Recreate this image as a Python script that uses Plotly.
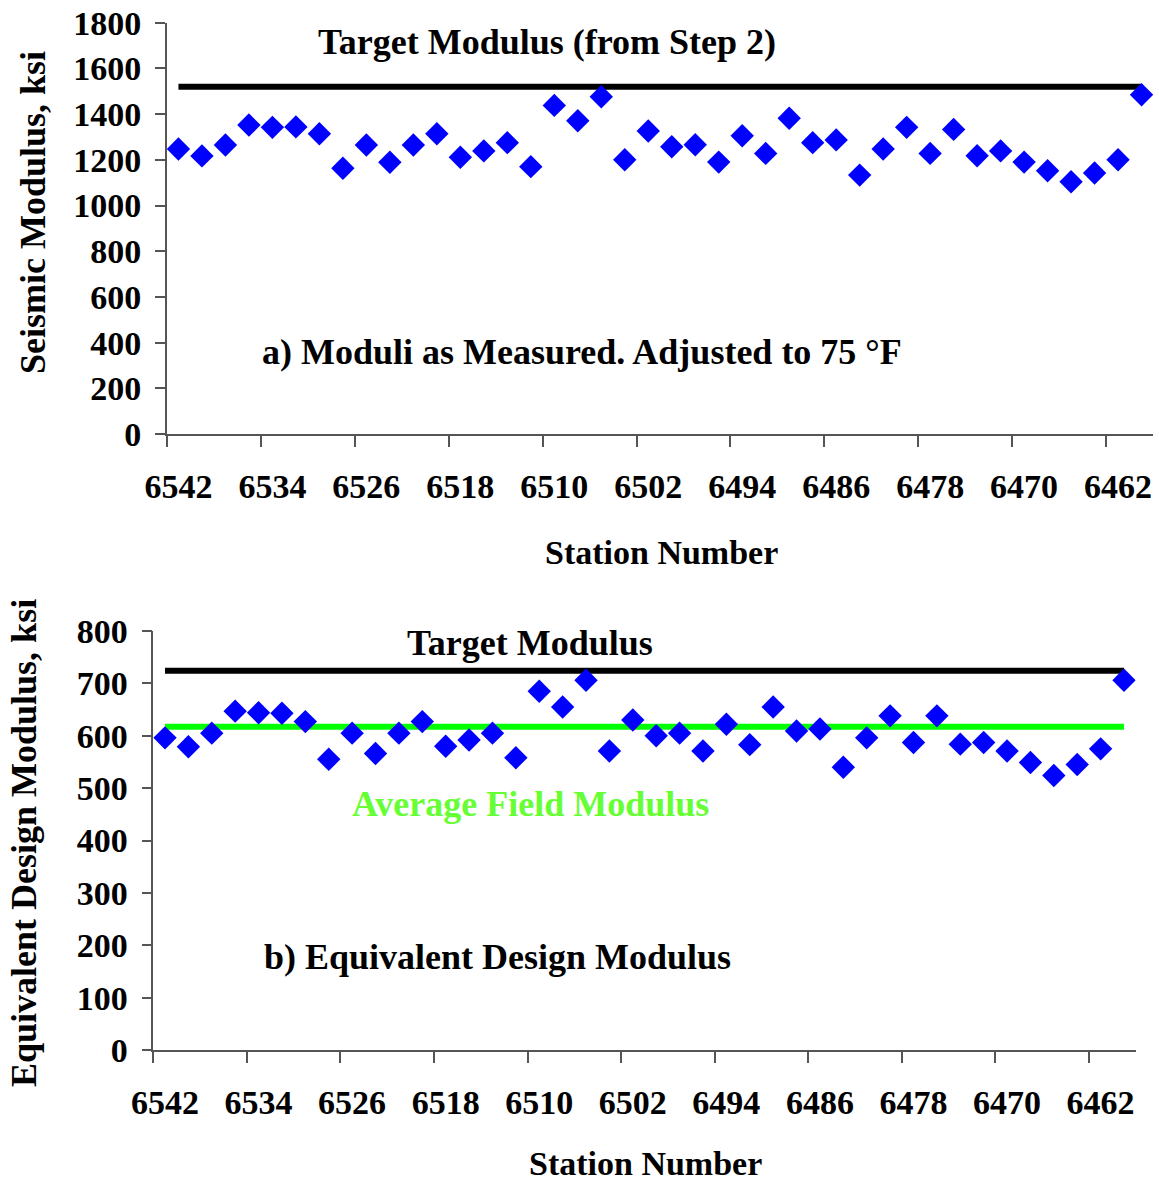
import plotly.graph_objects as go

# Station numbers along the test section (every other station)
stations = [6542, 6540, 6538, 6536, 6534, 6532, 6530, 6528, 6526, 6524,
            6522, 6520, 6518, 6516, 6514, 6512, 6510, 6508, 6506, 6504,
            6502, 6500, 6498, 6496, 6494, 6492, 6490, 6488, 6486, 6484,
            6482, 6480, 6478, 6476, 6474, 6472, 6470, 6468, 6466, 6464,
            6462, 6460]

# a) seismic moduli as measured, adjusted to 75 F (ksi)
seismic_modulus = [1247, 1217, 1265, 1352, 1342, 1344, 1314, 1163, 1265, 1189,
                   1265, 1314, 1211, 1239, 1275, 1170, 1438, 1371, 1476, 1200,
                   1326, 1257, 1266, 1190, 1305, 1228, 1382, 1275, 1287, 1133,
                   1247, 1342, 1228, 1333, 1218, 1239, 1190, 1152, 1104, 1142,
                   1200, 1485]

# b) equivalent design moduli (ksi)
design_modulus = [596, 579, 605, 647, 644, 643, 627, 555, 605, 566,
                  605, 627, 580, 592, 605, 558, 685, 655, 706, 571,
                  630, 600, 605, 571, 622, 583, 655, 609, 613, 540,
                  596, 638, 587, 638, 584, 587, 571, 549, 524, 545,
                  575, 706]

target_seismic = 1520
target_design = 724
average_field = 617

tick_stations = [6542, 6534, 6526, 6518, 6510, 6502, 6494, 6486, 6478, 6470, 6462]
tick_labels = ["6542", "6534", "6526", "6518", "6510", "6502",
               "6494", "6486", "6478", "6470", "6462"]
# tick marks sit between categories, one station before each label
tick_bounds = [s + 1 for s in tick_stations]

FONT = "Liberation Serif, Times New Roman, serif"
W, H = 1159, 1186
AXIS_COLOR = "#555555"

fig = go.Figure()

# ---- top panel ----
fig.add_trace(go.Scatter(
    x=[stations[0], stations[-1]], y=[target_seismic, target_seismic],
    mode="lines", line=dict(color="black", width=6),
    xaxis="x", yaxis="y", showlegend=False, hoverinfo="skip"))
fig.add_trace(go.Scatter(
    x=stations, y=seismic_modulus, mode="markers",
    marker=dict(symbol="diamond", size=18, color="#0000FF", line=dict(width=0)),
    xaxis="x", yaxis="y", showlegend=False))

# ---- bottom panel ----
fig.add_trace(go.Scatter(
    x=[stations[0], stations[-1]], y=[target_design, target_design],
    mode="lines", line=dict(color="black", width=6),
    xaxis="x2", yaxis="y2", showlegend=False, hoverinfo="skip"))
fig.add_trace(go.Scatter(
    x=[stations[0], stations[-1]], y=[average_field, average_field],
    mode="lines", line=dict(color="#00FF00", width=6),
    xaxis="x2", yaxis="y2", showlegend=False, hoverinfo="skip"))
fig.add_trace(go.Scatter(
    x=stations, y=design_modulus, mode="markers",
    marker=dict(symbol="diamond", size=18, color="#0000FF", line=dict(width=0)),
    xaxis="x2", yaxis="y2", showlegend=False))


def px_x(v):
    return v / W


def px_y(v):
    return 1 - v / H


tick_font = dict(family=FONT, size=34, color="black", weight="bold")


def x_axis(domain, anchor):
    return dict(
        domain=domain, anchor=anchor, automargin=False,
        range=[stations[0] + 1, stations[-1] - 1],
        tickmode="array", tickvals=tick_stations, ticktext=tick_labels,
        ticks="", ticklabelstandoff=21,
        minor=dict(tickmode="array", tickvals=tick_bounds, ticks="outside",
                   ticklen=11, tickwidth=1.5, tickcolor=AXIS_COLOR, showgrid=False),
        showline=True, linecolor=AXIS_COLOR, linewidth=1.5,
        showgrid=False, zeroline=False, tickfont=tick_font,
    )


def y_axis(domain, anchor, rng, dtick):
    return dict(
        domain=domain, anchor=anchor, range=rng, dtick=dtick, automargin=False,
        ticks="outside", ticklen=10, tickwidth=1.5, tickcolor=AXIS_COLOR,
        ticklabelstandoff=7,
        showline=True, linecolor=AXIS_COLOR, linewidth=1.5,
        showgrid=False, zeroline=False, tickfont=tick_font,
    )


fig.update_layout(
    width=W, height=H,
    margin=dict(l=0, r=0, t=0, b=0),
    paper_bgcolor="white", plot_bgcolor="white",
    font=dict(family=FONT, weight="bold"),
    xaxis=x_axis([px_x(166.7), px_x(1153.3)], "y"),
    yaxis=y_axis([px_y(434), px_y(22.7)], "x", [0, 1800], 200),
    xaxis2=x_axis([px_x(153.3), px_x(1135.7)], "y2"),
    yaxis2=y_axis([px_y(1050), px_y(631)], "x2", [0, 800], 100),
)

ann_font = dict(family=FONT, size=36, color="black", weight="bold")
axis_title_font = dict(family=FONT, size=34, color="black", weight="bold")
annotations = [
    dict(text="Target Modulus (from Step 2)", x=px_x(547), y=px_y(42)),
    dict(text="a) Moduli as Measured. Adjusted to 75 °F", x=px_x(582), y=px_y(352)),
    dict(text="Target Modulus", x=px_x(530), y=px_y(643)),
    dict(text="Average Field Modulus", x=px_x(530), y=px_y(804),
         font=dict(family=FONT, size=36, color="#66FF33", weight="bold")),
    dict(text="b) Equivalent Design Modulus", x=px_x(497), y=px_y(957)),
    # axis titles
    dict(text="Station Number", x=px_x(662), y=px_y(552), font=axis_title_font),
    dict(text="Station Number", x=px_x(645), y=px_y(1163), font=axis_title_font),
    dict(text="Seismic Modulus, ksi", x=px_x(33), y=px_y(213), textangle=-90),
    dict(text="Equivalent Design Modulus, ksi", x=px_x(24), y=px_y(843), textangle=-90),
]
for a in annotations:
    a.setdefault("font", ann_font)
    a.update(xref="paper", yref="paper", showarrow=False,
             xanchor="center", yanchor="middle")
fig.update_layout(annotations=annotations)

fig.write_html("out.html")
